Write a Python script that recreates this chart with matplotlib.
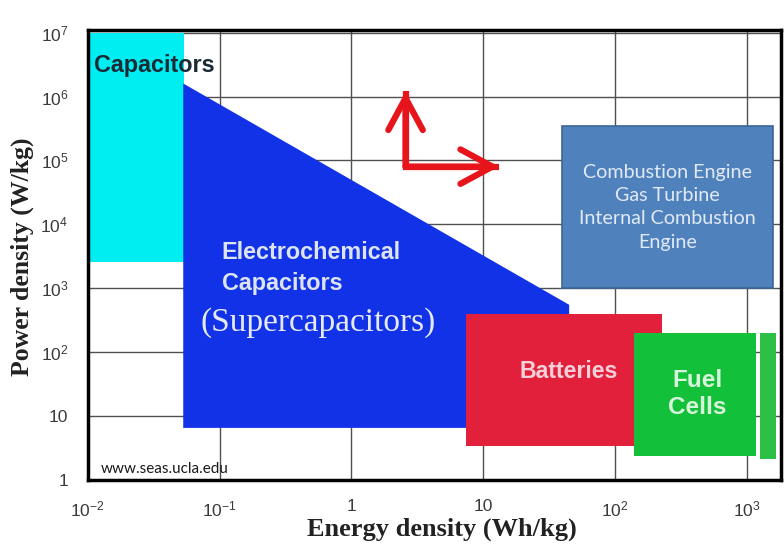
import matplotlib
matplotlib.use("Agg")
import matplotlib.pyplot as plt
from matplotlib.patches import Rectangle, Polygon

plt.rcParams['font.family'] = ['Liberation Sans', 'DejaVu Sans']

# ---- data ----
x_ticks = [1e-2, 1e-1, 1, 10, 1e2, 1e3]
x_ticklabels = [r'$\mathregular{10^{-2}}$', r'$\mathregular{10^{-1}}$', '1', '10',
                r'$\mathregular{10^{2}}$', r'$\mathregular{10^{3}}$']
y_ticks = [1, 10, 1e2, 1e3, 1e4, 1e5, 1e6, 1e7]
y_ticklabels = ['1', '10', r'$\mathregular{10^{2}}$', r'$\mathregular{10^{3}}$',
                r'$\mathregular{10^{4}}$', r'$\mathregular{10^{5}}$',
                r'$\mathregular{10^{6}}$', r'$\mathregular{10^{7}}$']

capacitors_x = [0.01, 0.054]
capacitors_y = [2600, 1e7]
echem_x = [0.053, 45, 45, 0.053]
echem_y = [1.6e6, 550, 6.5, 6.5]
batteries_x = [7.4, 229]
batteries_y = [3.4, 388]
fuel_x = [140, 1170]
fuel_y = [2.4, 200]
fuel2_x = [1256, 1663]
fuel2_y = [2.15, 200]
engine_x = [40, 1580]
engine_y = [1020, 3.4e5]
arrow_corner = (2.58, 8.0e4)
arrow_up_tip = (2.58, 1.2e6)
arrow_right_tip = (13.2, 8.0e4)

fig = plt.figure(figsize=(7.84, 5.56), dpi=100)
ax = fig.add_axes([0.112, 0.137, 0.884, 0.809])
ax.set_xscale('log')
ax.set_yscale('log')
ax.set_xlim(0.01, 1820)
ax.set_ylim(1, 1.1e7)

ax.grid(True, which='major', color='#505050', lw=1.0, zorder=0)
ax.minorticks_off()
ax.set_xticks(x_ticks)
ax.set_xticklabels(x_ticklabels)
ax.set_yticks(y_ticks)
ax.set_yticklabels(y_ticklabels)
ax.tick_params(length=0, labelsize=12.5, colors='#3a3a3a')
ax.tick_params(axis='x', pad=14)
ax.tick_params(axis='y', pad=14)
for s in ax.spines.values():
    s.set_linewidth(2.5)
    s.set_color('black')
    s.set_zorder(10)


def rect(xs, ys, **kw):
    ax.add_patch(Rectangle((xs[0], ys[0]), xs[1] - xs[0], ys[1] - ys[0], **kw))


rect(capacitors_x, capacitors_y, facecolor='#00EEF2', edgecolor='none', zorder=2)
ax.add_patch(Polygon(list(zip(echem_x, echem_y)), closed=True,
                     facecolor='#1132E6', edgecolor='none', zorder=3))
rect(batteries_x, batteries_y, facecolor='#E2203C', edgecolor='none', zorder=4)
rect(fuel_x, fuel_y, facecolor='#12C03A', edgecolor='none', zorder=5)
rect(fuel2_x, fuel2_y, facecolor='#2EC044', edgecolor='none', zorder=5)
rect(engine_x, engine_y, facecolor='#4F81BD', edgecolor='#3B679A', lw=1.2, zorder=5)

# arrows
ax.plot([arrow_up_tip[0], arrow_corner[0], arrow_right_tip[0]],
        [arrow_up_tip[1], arrow_corner[1], arrow_right_tip[1]],
        color='#E8141C', lw=4.5, solid_joinstyle='miter', solid_capstyle='butt', zorder=6)
for tip in (arrow_up_tip, arrow_right_tip):
    ax.annotate('', xy=tip, xytext=arrow_corner,
                arrowprops=dict(arrowstyle='->,head_length=1.15,head_width=0.62',
                                color='#E8141C', lw=4.5, mutation_scale=20,
                                shrinkA=0, shrinkB=0, joinstyle='miter'),
                zorder=6)

# texts
ax.text(0.0111, 3.1e6, 'Capacitors', fontsize=16.8, fontweight='bold',
        color='#1B2B36', ha='left', va='center', zorder=7)
ax.text(0.1035, 2050, 'Electrochemical\nCapacitors', fontsize=16.8, fontweight='bold',
        color='#DCE3F2', ha='left', va='center', linespacing=1.45, zorder=7)
ax.text(0.56, 289, '(Supercapacitors)', fontsize=24, family='Liberation Serif',
        color='#E6EAF6', ha='center', va='center', zorder=7)
ax.text(44.6, 49.4, 'Batteries', fontsize=16.7, fontweight='bold',
        color='#F6D0D8', ha='center', va='center', zorder=7)
ax.text(423, 22, 'Fuel\nCells', fontsize=17.5, fontweight='bold',
        color='#D6F5DA', ha='center', va='center', linespacing=1.25, zorder=7)
ax.text(250, 1.85e4, 'Combustion Engine\nGas Turbine\nInternal Combustion\nEngine',
        fontsize=14.2, family='Lato', color='#E2EAF6', ha='center', va='center',
        linespacing=1.45, zorder=7)
ax.text(0.0126, 1.5, 'www.seas.ucla.edu', fontsize=11, family='Lato',
        color='#1a1a1a', ha='left', va='center', zorder=7)

ax.set_xlabel('Energy density (Wh/kg)', fontsize=19, fontweight='bold',
              family='Liberation Serif', color='#222222', va='center')
ax.set_ylabel('Power density (W/kg)', fontsize=18.5, fontweight='bold',
              family='Liberation Serif', color='#222222', va='center', ha='center')
ax.xaxis.set_label_coords(0.5 + 8 / 693, -0.111)
ax.yaxis.set_label_coords(-0.095, 0.5 - 2 / 450)

fig.savefig('out.png', dpi=100)
